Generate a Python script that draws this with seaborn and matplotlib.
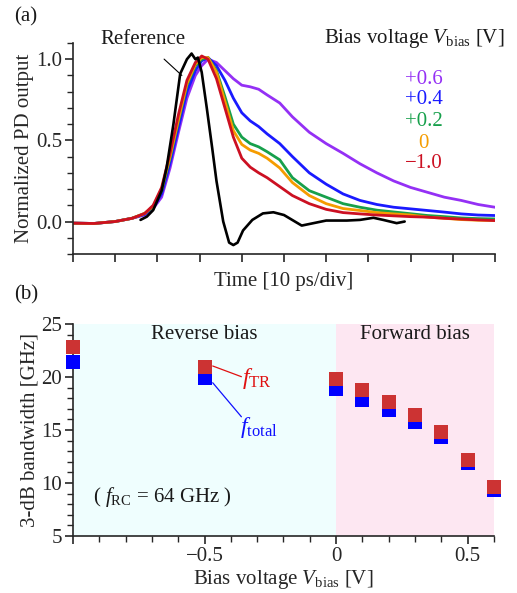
import numpy as np
import pandas as pd
import matplotlib
matplotlib.use("Agg")
import matplotlib.pyplot as plt
import seaborn as sns
from matplotlib.ticker import MultipleLocator, NullFormatter

# ---- data ----
t_ps = [0, 5, 10, 14, 17, 19, 21, 23, 25, 27, 29, 30.5, 32, 34, 36, 38, 40, 42, 44, 46,
        49, 52, 56, 60, 64, 68, 72, 76, 80, 84, 88, 92, 96, 100]

pd_m10 = [-0.01, -0.012, 0.0, 0.02, 0.05, 0.10, 0.21, 0.42, 0.66, 0.87, 0.98, 1.02, 1.0, 0.88,
          0.70, 0.52, 0.39, 0.335, 0.30, 0.27, 0.215, 0.16, 0.11, 0.075, 0.055, 0.047, 0.04,
          0.035, 0.03, 0.027, 0.02, 0.015, 0.01, 0.006]
pd_0 = [-0.01, -0.012, 0.0, 0.02, 0.05, 0.095, 0.20, 0.40, 0.63, 0.85, 0.97, 1.01, 1.01, 0.92,
        0.74, 0.56, 0.475, 0.44, 0.42, 0.39, 0.33, 0.24, 0.16, 0.11, 0.08, 0.068, 0.055,
        0.047, 0.04, 0.027, 0.02, 0.012, 0.008, 0.006]
pd_p02 = [-0.01, -0.012, 0.0, 0.02, 0.05, 0.09, 0.19, 0.39, 0.62, 0.84, 0.96, 1.0, 1.01, 0.93,
          0.77, 0.60, 0.52, 0.48, 0.46, 0.43, 0.38, 0.27, 0.19, 0.15, 0.11, 0.088, 0.07,
          0.059, 0.048, 0.037, 0.03, 0.022, 0.018, 0.016]
pd_p04 = [-0.01, -0.012, 0.0, 0.02, 0.045, 0.085, 0.17, 0.36, 0.58, 0.80, 0.93, 0.99, 1.01, 0.96,
          0.87, 0.76, 0.67, 0.62, 0.585, 0.54, 0.48, 0.40, 0.30, 0.23, 0.17, 0.13, 0.105,
          0.088, 0.078, 0.068, 0.058, 0.047, 0.04, 0.037]
pd_p06 = [-0.01, -0.012, 0.0, 0.02, 0.04, 0.08, 0.15, 0.33, 0.55, 0.76, 0.90, 0.96, 1.0, 0.98,
          0.93, 0.88, 0.84, 0.83, 0.815, 0.78, 0.73, 0.645, 0.55, 0.48, 0.42, 0.356, 0.30,
          0.25, 0.21, 0.18, 0.15, 0.13, 0.105, 0.088]

t_ref = [16, 17.5, 19, 21, 22.2, 23.8, 25.4, 27, 28.1, 29, 29.6, 30.5, 31.7, 33, 34, 35.6,
         37, 38, 39, 40.3, 42.5, 45, 47.5, 50, 54.2, 57, 60, 64.9, 68, 71.2, 73.5, 76.7, 78.6]
pd_ref = [0.01, 0.03, 0.07, 0.19, 0.335, 0.60, 0.91, 1.0, 1.035, 1.0, 1.01, 0.92, 0.70, 0.45,
          0.25, 0.0, -0.13, -0.145, -0.13, -0.055, 0.01, 0.05, 0.057, 0.04, -0.025, -0.01,
          0.006, 0.006, 0.01, 0.023, 0.01, -0.01, 0.0]

bias_labels = ["+0.6", "+0.4", "+0.2", "0", "\u22121.0"]
bias_colors = ["#9430f5", "#1a1aff", "#17a04b", "#f59c00", "#cc1022"]

v_bias = [-1.0, -0.5, 0.0, 0.1, 0.2, 0.3, 0.4, 0.5, 0.6]
f_tr = [22.8, 20.95, 19.8, 18.75, 17.6, 16.45, 14.85, 12.2, 9.6]
f_total = [21.45, 19.9, 18.9, 17.85, 16.85, 15.75, 14.35, 11.85, 9.3]

# ---- style ----
sns.set_theme(style="ticks")
plt.rcParams["font.family"] = ["Liberation Serif", "DejaVu Serif"]
plt.rcParams["mathtext.fontset"] = "custom"
plt.rcParams["mathtext.rm"] = "Liberation Serif"
plt.rcParams["mathtext.it"] = "Liberation Serif:italic"
plt.rcParams["font.size"] = 15
plt.rcParams["axes.linewidth"] = 1.2
plt.rcParams["text.color"] = "#1a1a1a"

fig = plt.figure(figsize=(5.17, 5.93), dpi=100)
ax1 = fig.add_axes([0.1412, 0.5717, 0.8162, 0.3558])
ax2 = fig.add_axes([0.1412, 0.0961, 0.8143, 0.3575])

# ---- panel (a) ----
traces = pd.DataFrame({
    "t": t_ps * 5,
    "v": pd_p06 + pd_p04 + pd_p02 + pd_0 + pd_m10,
    "bias": sum([[b] * len(t_ps) for b in bias_labels], []),
})
sns.lineplot(data=traces, x="t", y="v", hue="bias", hue_order=bias_labels,
             palette=bias_colors, linewidth=2.0, legend=False, ax=ax1)
sns.lineplot(x=t_ref, y=pd_ref, color="black", linewidth=1.9, ax=ax1)

ax1.set_xlim(0, 100)
ax1.set_ylim(-0.2, 1.1)
ax1.xaxis.set_major_locator(MultipleLocator(10))
ax1.xaxis.set_major_formatter(NullFormatter())
ax1.yaxis.set_major_locator(MultipleLocator(0.5))
ax1.yaxis.set_minor_locator(MultipleLocator(0.1))
ax1.yaxis.set_major_formatter(matplotlib.ticker.FormatStrFormatter("%.1f"))
for s in ["top", "right"]:
    ax1.spines[s].set_visible(False)
ax1.tick_params(which="major", direction="out", length=6, width=1.2, labelsize=15, pad=2)
ax1.tick_params(which="minor", direction="out", length=4, width=1.0)
ax1.set_xlabel("Time [10 ps/div]", fontsize=15, labelpad=5)
ax1.set_ylabel("Normalized PD output", fontsize=15, labelpad=1)

ax1.text(0.595, 1.02, r"Bias voltage $V_{\rm bias}$ [V]", transform=ax1.transAxes,
         fontsize=15, ha="left", va="center", clip_on=False)
lab_y = [0.829, 0.730, 0.626, 0.526, 0.427]
for lab, col, yy in zip(bias_labels, bias_colors, lab_y):
    xx = 0.818 if lab == "0" else 0.787
    ax1.text(xx, yy, lab, color=col, transform=ax1.transAxes, fontsize=15,
             ha="left", va="center")

ax1.annotate("Reference", xy=(25.8, 0.90), xytext=(16.6, 1.12), fontsize=15,
             ha="center", va="center", annotation_clip=False,
             arrowprops=dict(arrowstyle="-", color="black", lw=0.8,
                             shrinkA=7, shrinkB=0))
fig.text(0.027, 0.972, "(a)", fontsize=15, ha="left", va="center")

# ---- panel (b) ----
ax2.axvspan(-1.0, 0.0, color="#effefe", zorder=0, lw=0)
ax2.axvspan(0.0, 0.6, color="#fde7f2", zorder=0, lw=0)

sns.scatterplot(x=v_bias, y=f_total, marker="s", s=95, color="#0000ff",
                linewidth=0, ax=ax2, zorder=3, clip_on=False)
sns.scatterplot(x=v_bias, y=f_tr, marker="s", s=95, color="#cc3333",
                linewidth=0, ax=ax2, zorder=4, clip_on=False)

ax2.set_xlim(-1.0, 0.6)
ax2.set_ylim(5, 25)
ax2.xaxis.set_major_locator(MultipleLocator(0.5))
ax2.xaxis.set_minor_locator(MultipleLocator(0.1))
ax2.yaxis.set_major_locator(MultipleLocator(5))
ax2.yaxis.set_minor_locator(MultipleLocator(1))
ax2.set_xticks([-1.0, -0.5, 0.0, 0.5])
ax2.set_xticklabels(["", "\u22120.5", "0", "0.5"])
for s in ["top", "right"]:
    ax2.spines[s].set_visible(False)
ax2.tick_params(which="major", direction="out", length=6, width=1.2, labelsize=15, pad=2)
ax2.tick_params(which="minor", direction="out", length=4, width=1.0)
ax2.set_xlabel(r"Bias voltage $V_{\rm bias}$ [V]", fontsize=15, labelpad=1)
ax2.set_ylabel("3-dB bandwidth [GHz]", fontsize=15, labelpad=1)

ax2.text(-0.502, 24.0, "Reverse bias", fontsize=15, ha="center", va="center")
ax2.text(0.30, 24.0, "Forward bias", fontsize=15, ha="center", va="center")
ax2.text(-0.925, 8.7, r"( $f_{\rm RC}$ = 64 GHz )", fontsize=15, ha="left", va="center")

ax2.plot([-0.469, -0.36], [21.04, 20.03], color="#e01010", lw=0.9, zorder=5)
ax2.plot([-0.469, -0.36], [19.46, 16.25], color="#1010ff", lw=0.9, zorder=5)
ax2.text(-0.357, 19.85, r"$f_{\rm TR}$", color="#e01010", fontsize=17, ha="left", va="center")
ax2.text(-0.365, 15.25, r"$f_{\rm total}$", color="#1010ff", fontsize=17, ha="left", va="center")
fig.text(0.027, 0.503, "(b)", fontsize=15, ha="left", va="center")

fig.savefig("out.png", dpi=100)
